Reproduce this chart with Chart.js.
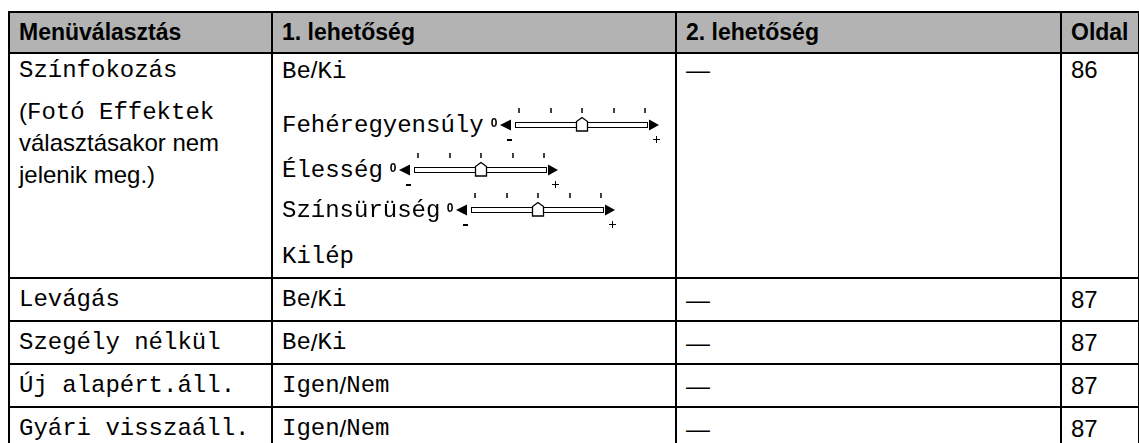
<!DOCTYPE html>
<html>
<head>
<meta charset="utf-8">
<script src="https://cdn.jsdelivr.net/npm/chart.js@4.4.1/dist/chart.umd.min.js"></script>
<style>
  html, body { margin: 0; padding: 0; background: #fff; overflow: hidden; width: 1139px; height: 443px; }
  #table { position: relative; width: 1139px; height: 443px; }
  .cell { position: absolute; box-sizing: border-box; border: 2px solid #000; }
  .head { background: #b3b3b3; font: bold 23px "Liberation Sans", Arial, sans-serif; display: flex; align-items: center; padding-left: 9px; }
  .row { display: flex; align-items: center; padding-left: 9px; }
  .mono { font-family: "Liberation Mono", "Courier New", monospace; font-size: 24px; }
  .sans { font-family: "Liberation Sans", Arial, sans-serif; font-size: 24px; }
  .line { position: absolute; left: 9px; height: 44px; display: flex; align-items: center; white-space: nowrap; }
  .line canvas { margin-left: 5px; }
</style>
</head>
<body>
<div id="table"></div>
<script>
// table contents
const headers = ['Menüválasztás', '1. lehetőség', '2. lehetőség', 'Oldal'];
const menuItems = ['Színfokozás', 'Levágás', 'Szegély nélkül', 'Új alapért.áll.', 'Gyári visszaáll.'];
const menuNote = ['(Fotó Effektek', 'választásakor nem', 'jelenik meg.)'];
const option1 = [
    ['Be/Ki', 'Fehéregyensúly', 'Élesség', 'Színsürüség', 'Kilép'],
    ['Be/Ki'], ['Be/Ki'], ['Igen/Nem'], ['Igen/Nem']
];
const option2 = ['—', '—', '—', '—', '—'];
const pages = ['86', '87', '87', '87', '87'];

// slider settings shown next to the colour options
const sliderNames = ['Fehéregyensúly', 'Élesség', 'Színsürüség'];
const sliderValues = [0, 0, 0];
const sliderTicks = [-2, -1, 0, 1, 2];

// grid layout
const colX = [8, 271, 675, 1060, 1138];
const rowY = [11, 52, 277, 320, 363, 406, 449];

const table = document.getElementById('table');

function cell(col, row, cls) {
    let d = document.createElement('div');
    d.className = 'cell ' + (cls || '');
    d.style.left = colX[col] + 'px';
    d.style.top = rowY[row] + 'px';
    d.style.width = (colX[col + 1] - colX[col] + 2) + 'px';
    d.style.height = (rowY[row + 1] - rowY[row] + 2) + 'px';
    table.appendChild(d);
    return d;
}

// slashes and brackets are set in the proportional font
function mixed(s) {
    return s.replace(/([\/(])/g, '<span class="sans">$1</span>');
}

// header
headers.forEach((h, i) => {
    cell(i, 0, 'head').textContent = h;
});

// first (tall) row: text lines placed by their centre
const col1Centres = [18, 60, 91, 123];
const col2Centres = [18, 73, 118, 158, 204];

function addLine(parent, html, centre, cls) {
    let l = document.createElement('div');
    l.className = 'line ' + cls;
    l.style.top = (centre - 2 - 22) + 'px';
    l.innerHTML = html;
    parent.appendChild(l);
    return l;
}

let c0 = cell(0, 1, '');
addLine(c0, mixed(menuItems[0]), col1Centres[0], 'mono');
addLine(c0, mixed(menuNote[0]), col1Centres[1], 'mono');
addLine(c0, menuNote[1], col1Centres[2], 'sans');
addLine(c0, menuNote[2], col1Centres[3], 'sans');

let c1 = cell(1, 1, '');
let sliderCanvases = [];
option1[0].forEach((t, k) => {
    let l = addLine(c1, '<span>' + mixed(t) + '</span>', col2Centres[k], 'mono');
    let idx = sliderNames.indexOf(t);
    if (idx >= 0) {
        let cv = document.createElement('canvas');
        cv.width = 176;
        cv.height = 44;
        l.appendChild(cv);
        sliderCanvases.push([cv, sliderValues[idx]]);
    }
});

let c2 = cell(2, 1, '');
addLine(c2, option2[0], col1Centres[0], 'sans');
let c3 = cell(3, 1, '');
addLine(c3, pages[0], col1Centres[0], 'sans');

// remaining rows
for (let r = 1; r < menuItems.length; r++) {
    let a = cell(0, r + 1, 'row mono'); a.innerHTML = mixed(menuItems[r]);
    let b = cell(1, r + 1, 'row mono'); b.innerHTML = mixed(option1[r][0]);
    let c = cell(2, r + 1, 'row sans'); c.textContent = option2[r];
    let d = cell(3, r + 1, 'row sans'); d.textContent = pages[r];
}

// slider thumb used as point style
function thumbImage() {
    let cv = document.createElement('canvas');
    cv.width = 14;
    cv.height = 18;
    let g = cv.getContext('2d');
    g.beginPath();
    g.moveTo(7, 1.5);
    g.lineTo(1.5, 5.5);
    g.lineTo(1.5, 15);
    g.lineTo(12.5, 15);
    g.lineTo(12.5, 5.5);
    g.closePath();
    g.fillStyle = '#fff';
    g.fill();
    g.lineWidth = 1.3;
    g.strokeStyle = '#000';
    g.stroke();
    return cv;
}

// track, ticks, arrows and labels of the slider
const sliderDecor = {
    id: 'sliderDecor',
    beforeDatasetsDraw(chart) {
        const ctx = chart.ctx;
        const xs = chart.scales.x;
        const cy = Math.round(chart.scales.y.getPixelForValue(0));
        const x0 = xs.getPixelForValue(sliderTicks[0]);
        const x4 = xs.getPixelForValue(sliderTicks[sliderTicks.length - 1]);
        ctx.save();
        ctx.strokeStyle = '#000';
        ctx.fillStyle = '#000';

        // tick marks
        ctx.lineWidth = 1.5;
        sliderTicks.forEach(t => {
            let px = Math.round(xs.getPixelForValue(t));
            ctx.beginPath();
            ctx.moveTo(px, cy - 17);
            ctx.lineTo(px, cy - 12);
            ctx.stroke();
        });

        // track
        ctx.lineWidth = 1;
        ctx.fillStyle = '#fff';
        ctx.fillRect(x0 - 4, cy - 2, x4 - x0 + 6, 4);
        ctx.strokeRect(Math.round(x0 - 4) + 0.5, cy - 2.5, Math.round(x4 - x0 + 6), 5);

        // arrows
        ctx.fillStyle = '#000';
        ctx.beginPath();
        ctx.moveTo(x0 - 19, cy);
        ctx.lineTo(x0 - 8, cy - 5.5);
        ctx.lineTo(x0 - 8, cy + 5.5);
        ctx.closePath();
        ctx.fill();
        ctx.beginPath();
        ctx.moveTo(x4 + 4, cy - 5.5);
        ctx.lineTo(x4 + 4, cy + 5.5);
        ctx.lineTo(x4 + 14, cy);
        ctx.closePath();
        ctx.fill();

        // labels
        ctx.font = 'bold 12px "Liberation Sans", Arial, sans-serif';
        ctx.textAlign = 'center';
        ctx.textBaseline = 'middle';
        ctx.fillText('0', x0 - 25, cy - 1);
        ctx.fillRect(x0 - 12, cy + 14, 5, 2);
        ctx.lineWidth = 1;
        ctx.beginPath();
        ctx.moveTo(x4 + 8, cy + 14.5);
        ctx.lineTo(x4 + 15, cy + 14.5);
        ctx.moveTo(x4 + 11.5, cy + 11);
        ctx.lineTo(x4 + 11.5, cy + 18);
        ctx.stroke();
        ctx.restore();
    }
};

sliderCanvases.forEach(([cv, value]) => {
    new Chart(cv, {
        type: 'scatter',
        data: {
            datasets: [{
                data: [{ x: value, y: 0 }],
                pointStyle: thumbImage(),
                pointRadius: 8,
                pointHoverRadius: 8
            }]
        },
        options: {
            responsive: false,
            animation: false,
            events: [],
            layout: { padding: { left: 30, right: 20, top: 0, bottom: 0 } },
            scales: {
                x: { type: 'linear', min: -2, max: 2, display: false },
                y: { type: 'linear', min: -1, max: 1, display: false }
            },
            plugins: {
                legend: { display: false },
                tooltip: { enabled: false }
            }
        },
        plugins: [sliderDecor]
    });
});
</script>
</body>
</html>
